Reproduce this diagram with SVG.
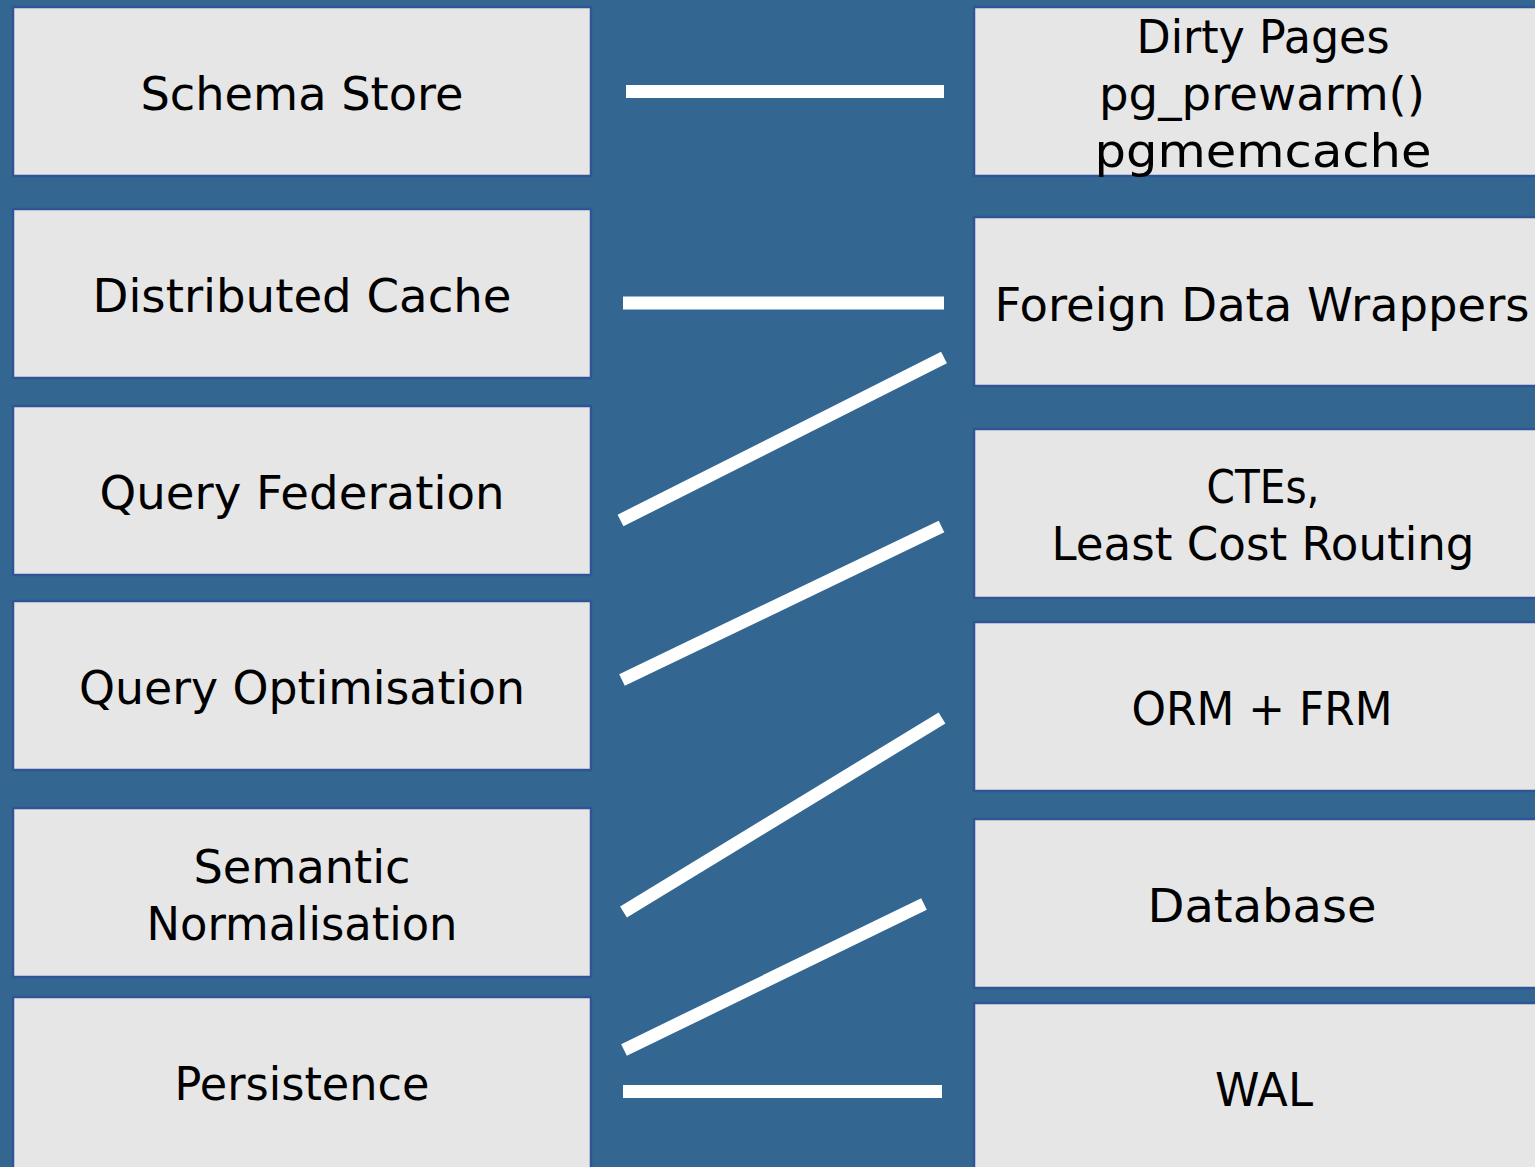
<svg xmlns="http://www.w3.org/2000/svg" width="1535" height="1167" viewBox="0 0 1535 1167">
  <style>
    .box { fill: #e6e6e6; stroke: #2f5597; stroke-width: 2.5; }
    .lbl { font-family: "DejaVu Sans", "Liberation Sans", sans-serif; font-size: 47px; fill: #000; text-anchor: middle; }
    .link { stroke: #ffffff; stroke-width: 13; stroke-linecap: butt; fill: none; }
  </style>

  <!-- page background -->
  <rect x="0" y="0" width="1535" height="1167" fill="#336791"/>

  <!-- left column -->
  <g id="schema-store">
    <rect class="box" x="13" y="7" width="578" height="169"/>
    <text class="lbl" x="302" y="110" textLength="323" lengthAdjust="spacingAndGlyphs">Schema Store</text>
  </g>
  <g id="distributed-cache">
    <rect class="box" x="13" y="209" width="578" height="169"/>
    <text class="lbl" x="302" y="312" textLength="419" lengthAdjust="spacingAndGlyphs">Distributed Cache</text>
  </g>
  <g id="query-federation">
    <rect class="box" x="13" y="406" width="578" height="169"/>
    <text class="lbl" x="302" y="509" textLength="405" lengthAdjust="spacingAndGlyphs">Query Federation</text>
  </g>
  <g id="query-optimisation">
    <rect class="box" x="13" y="601" width="578" height="169"/>
    <text class="lbl" x="302" y="704" textLength="446" lengthAdjust="spacingAndGlyphs">Query Optimisation</text>
  </g>
  <g id="semantic-normalisation">
    <rect class="box" x="13" y="808" width="578" height="169"/>
    <text class="lbl" x="302" y="883" textLength="217" lengthAdjust="spacingAndGlyphs">Semantic</text>
    <text class="lbl" x="302" y="940" textLength="311" lengthAdjust="spacingAndGlyphs">Normalisation</text>
  </g>
  <g id="persistence">
    <rect class="box" x="13" y="997" width="578" height="172"/>
    <text class="lbl" x="302" y="1100" textLength="255" lengthAdjust="spacingAndGlyphs">Persistence</text>
  </g>

  <!-- right column -->
  <g id="dirty-pages">
    <rect class="box" x="974" y="7" width="578" height="169"/>
    <text class="lbl" x="1263" y="53" textLength="253" lengthAdjust="spacingAndGlyphs">Dirty Pages</text>
    <text class="lbl" x="1262" y="110" textLength="326" lengthAdjust="spacingAndGlyphs">pg_prewarm()</text>
    <text class="lbl" x="1263" y="167" textLength="337" lengthAdjust="spacingAndGlyphs">pgmemcache</text>
  </g>
  <g id="foreign-data-wrappers">
    <rect class="box" x="974" y="217" width="578" height="169"/>
    <text class="lbl" x="1262" y="321" textLength="535" lengthAdjust="spacingAndGlyphs">Foreign Data Wrappers</text>
  </g>
  <g id="ctes-routing">
    <rect class="box" x="974" y="429" width="578" height="169"/>
    <text class="lbl" x="1263" y="503" textLength="113" lengthAdjust="spacingAndGlyphs">CTEs,</text>
    <text class="lbl" x="1263" y="560" textLength="423" lengthAdjust="spacingAndGlyphs">Least Cost Routing</text>
  </g>
  <g id="orm-frm">
    <rect class="box" x="974" y="622" width="578" height="169"/>
    <text class="lbl" x="1262" y="725" textLength="261" lengthAdjust="spacingAndGlyphs">ORM + FRM</text>
  </g>
  <g id="database">
    <rect class="box" x="974" y="819" width="578" height="169"/>
    <text class="lbl" x="1262" y="922" textLength="229" lengthAdjust="spacingAndGlyphs">Database</text>
  </g>
  <g id="wal">
    <rect class="box" x="974" y="1003" width="578" height="172"/>
    <text class="lbl" x="1264" y="1106" textLength="98" lengthAdjust="spacingAndGlyphs">WAL</text>
  </g>

  <!-- connectors -->
  <g id="connectors">
    <line class="link" x1="626" y1="91.5" x2="944" y2="91.5"/>
    <line class="link" x1="623" y1="303" x2="944" y2="303"/>
    <line class="link" x1="620.5" y1="520.5" x2="944" y2="357.5"/>
    <line class="link" x1="622" y1="680" x2="941.5" y2="526.5"/>
    <line class="link" x1="623.5" y1="912" x2="942" y2="718"/>
    <line class="link" x1="624" y1="1050" x2="924" y2="904"/>
    <line class="link" x1="623" y1="1091.5" x2="942" y2="1091.5"/>
  </g>
</svg>
